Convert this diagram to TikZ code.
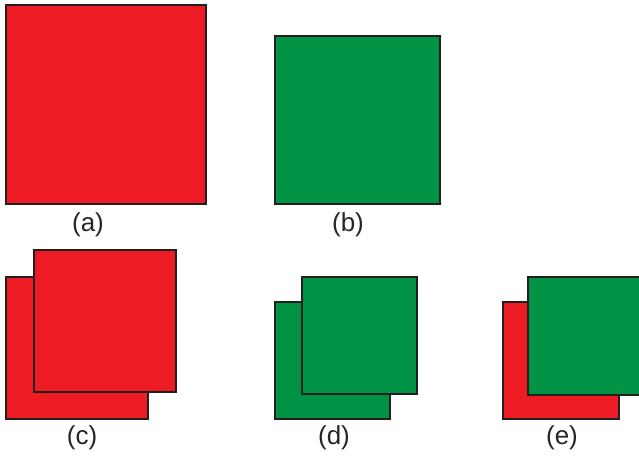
\documentclass[tikz,border=0pt]{standalone}
\usepackage{fontspec}
\setmainfont{Liberation Sans}
\definecolor{sqred}{RGB}{237,28,36}
\definecolor{sqgreen}{RGB}{0,146,69}
\definecolor{edge}{RGB}{35,31,32}
\begin{document}
\begin{tikzpicture}[x=1pt,y=-1pt,
  redsq/.style={fill=sqred,draw=edge,line width=2pt},
  greensq/.style={fill=sqgreen,draw=edge,line width=2pt},
  lab/.style={font=\fontsize{26}{30}\selectfont,text=black!85,inner sep=0pt}]
\useasboundingbox (0,0) rectangle (639,458);
\clip (0,0) rectangle (639,458);
% (a)
\path[redsq] (6,5) rectangle (206,204);
\node[lab] (la) at (88,225) {(a)};
% (b)
\path[greensq] (275,36) rectangle (440,204);
\node[lab] (lb) at (348,225) {(b)};
% (c)
\path[redsq] (6,277) rectangle (148,419);
\path[redsq] (34,250) rectangle (176,392);
\node[lab] (lc) at (82,438) {(c)};
% (d)
\path[greensq] (275,302) rectangle (390,419);
\path[greensq] (302,277) rectangle (417,394);
\node[lab] (ld) at (334,438) {(d)};
% (e)
\path[redsq] (503,302) rectangle (619,419);
\path[greensq] (528,277) rectangle (648,395);
\node[lab] (le) at (562,438) {(e)};
\end{tikzpicture}
\end{document}
